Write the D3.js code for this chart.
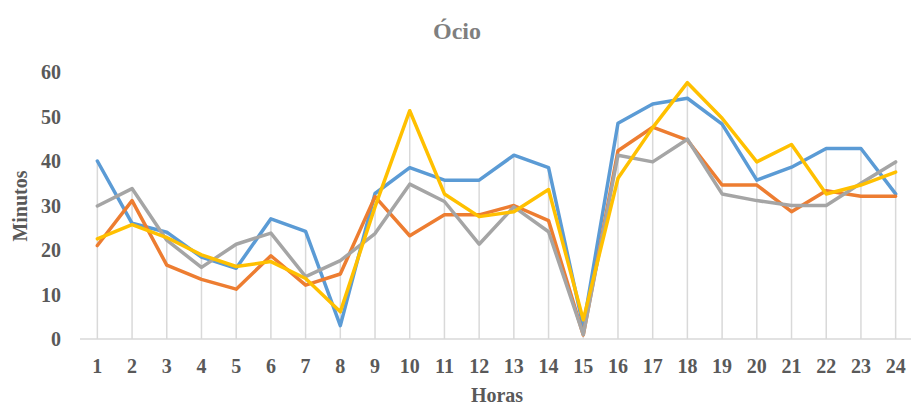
<!DOCTYPE html>
<html>
<head>
<meta charset="utf-8">
<script src="https://cdn.jsdelivr.net/npm/d3@7"></script>
<style>
  body { margin: 0; background: #fff; }
  text { font-family: "Liberation Serif", "Times New Roman", serif; font-weight: bold; fill: #595959; }
</style>
</head>
<body>
<div id="chart"></div>
<script>
// hours on the x axis
var horas = d3.range(1, 25);

// minutes per series
var serieAzul    = [40, 26, 24, 18.4, 15.9, 27, 24.2, 3, 32.7, 38.5, 35.7, 35.7, 41.3, 38.5, 2.8, 48.5, 52.8, 54.1, 48.3, 35.7, 38.6, 42.8, 42.8, 32.6];
var serieLaranja = [21, 31.1, 16.6, 13.4, 11.2, 18.7, 12.1, 14.6, 32, 23.2, 27.9, 27.9, 30, 26.6, 0.9, 42.3, 47.6, 44.7, 34.6, 34.6, 28.6, 33.3, 32.1, 32.1];
var serieCinza   = [29.9, 33.8, 22.2, 16.1, 21.3, 23.8, 14, 17.6, 23.7, 34.8, 30.9, 21.3, 29.7, 24.1, 1, 41.3, 39.8, 44.9, 32.6, 31.1, 30, 30, 35, 39.8];
var serieAmarela = [22.5, 25.7, 22.8, 18.9, 16.3, 17.4, 13.6, 6.1, 29.7, 51.3, 32.6, 27.5, 28.6, 33.6, 4.3, 36.1, 47.5, 57.6, 49.6, 39.8, 43.7, 32.6, 34.6, 37.5];
var yTicks = [0, 10, 20, 30, 40, 50, 60];

var series = [
  { nome: "azul", cor: "#5B9BD5", valores: serieAzul },
  { nome: "laranja", cor: "#ED7D31", valores: serieLaranja },
  { nome: "cinza", cor: "#A5A5A5", valores: serieCinza },
  { nome: "amarela", cor: "#FFC000", valores: serieAmarela }
];

var width = 911, height = 407;
var margin = { top: 72, right: 0, bottom: 68, left: 80 };

var svg = d3.select("#chart").append("svg")
    .attr("width", width)
    .attr("height", height);

var x = d3.scalePoint()
    .domain(horas)
    .range([margin.left, 913])
    .padding(0.5);

var y = d3.scaleLinear()
    .domain([0, 60])
    .range([height - margin.bottom, margin.top]);

// drop lines from the highest value down to the axis
svg.append("g")
  .selectAll("line")
  .data(horas)
  .enter().append("line")
    .attr("x1", function(d) { return x(d); })
    .attr("x2", function(d) { return x(d); })
    .attr("y1", y(0))
    .attr("y2", function(d, i) { return y(d3.max(series, function(s) { return s.valores[i]; })); })
    .attr("stroke", "#D9D9D9")
    .attr("stroke-width", 1.5);

// x axis line
svg.append("line")
    .attr("x1", margin.left)
    .attr("x2", 913)
    .attr("y1", y(0))
    .attr("y2", y(0))
    .attr("stroke", "#D9D9D9")
    .attr("stroke-width", 1.5);

// y tick labels
svg.append("g")
  .selectAll("text")
  .data(yTicks)
  .enter().append("text")
    .attr("x", 61)
    .attr("y", function(d) { return y(d); })
    .attr("dy", "0.35em")
    .attr("text-anchor", "end")
    .style("font-size", "20px")
    .text(function(d) { return d; });

// x tick labels
svg.append("g")
  .selectAll("text")
  .data(horas)
  .enter().append("text")
    .attr("x", function(d) { return x(d); })
    .attr("y", 373)
    .attr("text-anchor", "middle")
    .style("font-size", "20px")
    .text(function(d) { return d; });

var line = d3.line()
    .x(function(d, i) { return x(horas[i]); })
    .y(function(d) { return y(d); });

svg.append("g")
  .selectAll("path")
  .data(series)
  .enter().append("path")
    .attr("d", function(s) { return line(s.valores); })
    .attr("fill", "none")
    .attr("stroke", function(s) { return s.cor; })
    .attr("stroke-width", 3.5)
    .attr("stroke-linejoin", "round")
    .attr("stroke-linecap", "round");

// title
svg.append("text")
    .attr("x", 457)
    .attr("y", 39)
    .attr("text-anchor", "middle")
    .style("font-size", "24px")
    .style("fill", "#7F7F7F")
    .text("Ócio");

// axis titles
svg.append("text")
    .attr("x", 497)
    .attr("y", 402)
    .attr("text-anchor", "middle")
    .style("font-size", "20px")
    .text("Horas");

svg.append("text")
    .attr("transform", "translate(27," + 206 + ") rotate(-90)")
    .attr("text-anchor", "middle")
    .style("font-size", "20px")
    .text("Minutos");
</script>
</body>
</html>
